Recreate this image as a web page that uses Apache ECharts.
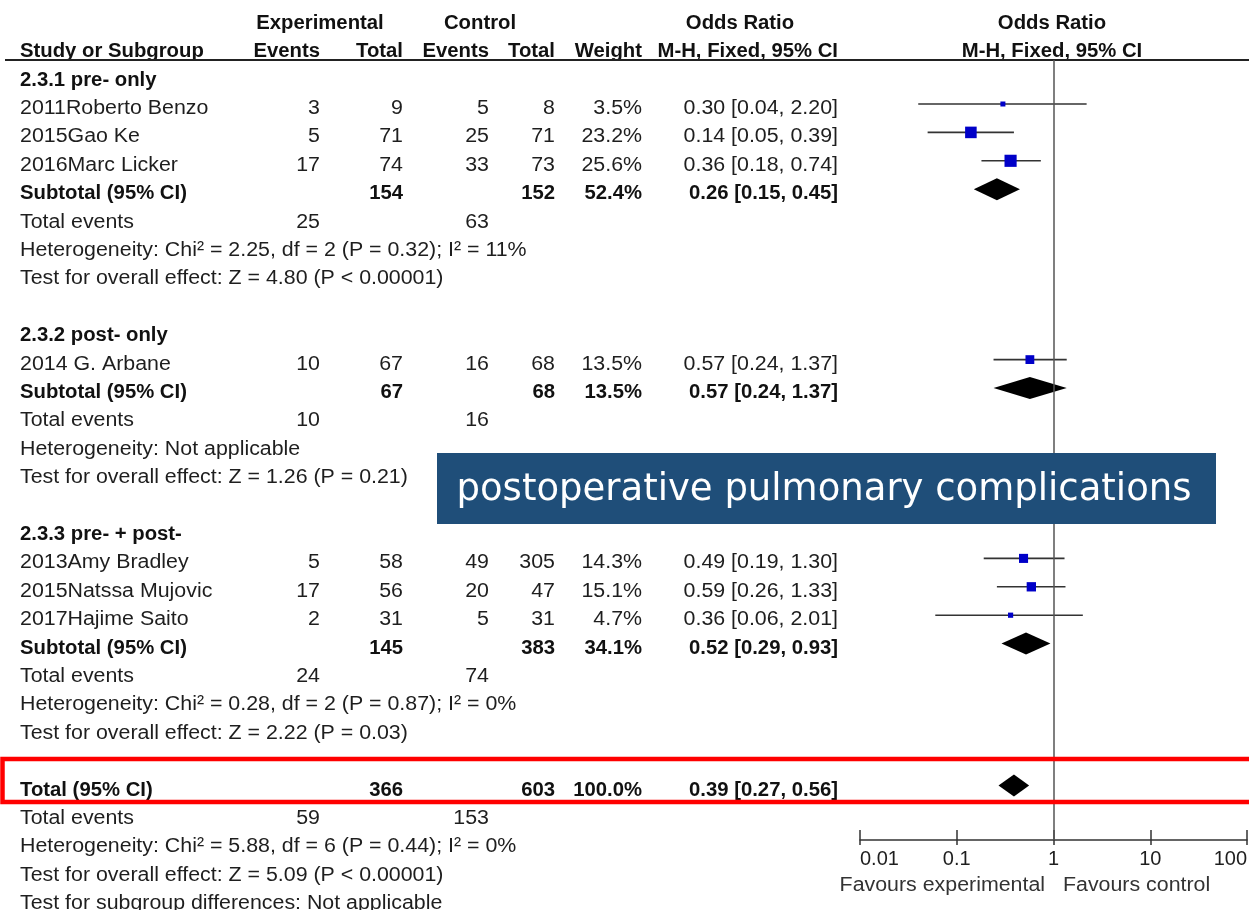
<!DOCTYPE html>
<html><head><meta charset="utf-8">
<script src="https://cdn.jsdelivr.net/npm/echarts@6/dist/echarts.min.js"></script>
<style>html,body{margin:0;padding:0;background:#fff}#c{width:1249px;height:910px}</style>
</head><body><div id="c"></div>
<script>
// ---------- data ----------
const groupNames = ['2.3.1 pre- only', '2.3.2 post- only', '2.3.3 pre- + post-'];
const studyNames = ['2011Roberto Benzo', '2015Gao Ke', '2016Marc Licker', '2014 G. Arbane', '2013Amy Bradley', '2015Natssa Mujovic', '2017Hajime Saito'];
const studyGroup = [0, 0, 0, 1, 2, 2, 2];
const expEvents = [3, 5, 17, 10, 5, 17, 2];
const expTotal = [9, 71, 74, 67, 58, 56, 31];
const ctlEvents = [5, 25, 33, 16, 49, 20, 5];
const ctlTotal = [8, 71, 73, 68, 305, 47, 31];
const weights = [3.5, 23.2, 25.6, 13.5, 14.3, 15.1, 4.7];
const orVal = [0.30, 0.14, 0.36, 0.57, 0.49, 0.59, 0.36];
const ciLow = [0.04, 0.05, 0.18, 0.24, 0.19, 0.26, 0.06];
const ciHigh = [2.20, 0.39, 0.74, 1.37, 1.30, 1.33, 2.01];

const subExpTotal = [154, 67, 145];
const subCtlTotal = [152, 68, 383];
const subWeight = [52.4, 13.5, 34.1];
const subOR = [0.26, 0.57, 0.52];
const subLow = [0.15, 0.24, 0.29];
const subHigh = [0.45, 1.37, 0.93];
const subExpEvents = [25, 10, 24];
const subCtlEvents = [63, 16, 74];
const subHet = ['Chi\u00b2 = 2.25, df = 2 (P = 0.32); I\u00b2 = 11%', 'Not applicable', 'Chi\u00b2 = 0.28, df = 2 (P = 0.87); I\u00b2 = 0%'];
const subZ = ['Z = 4.80 (P < 0.00001)', 'Z = 1.26 (P = 0.21)', 'Z = 2.22 (P = 0.03)'];

const totExpTotal = 366, totCtlTotal = 603, totWeight = 100.0;
const totOR = 0.39, totLow = 0.27, totHigh = 0.56;
const totExpEvents = 59, totCtlEvents = 153;
const totHet = 'Chi\u00b2 = 5.88, df = 6 (P = 0.44); I\u00b2 = 0%';
const totZ = 'Z = 5.09 (P < 0.00001)';
const subgroupDiff = 'Not applicable';

const tickLabels = ['0.01', '0.1', '1', '10', '100'];
const favourLabels = ['Favours experimental', 'Favours control'];
const bannerText = 'postoperative pulmonary complications';

// ---------- layout ----------
const ROW0 = 23.3, ROWH = 28.4;        // text rows
const MARK_SHIFT = 4.5;                // markers sit a little above text centre
const COL = { name: 20, expEv: 320, expTot: 403, ctlEv: 489, ctlTot: 555, weight: 642, or: 838 };
const FS = 20, SX_REG = 1.068, SX_BOLD = 1.015;
const fmt2 = v => v.toFixed(2);
const ciText = (o, l, h) => fmt2(o) + ' [' + fmt2(l) + ', ' + fmt2(h) + ']';

const cells = [];
function add(row, x, text, bold, align) {
  cells.push({ row, x, text: String(text), bold: !!bold, align: align || 'right' });
}
// header
add(0, 320, 'Experimental', true, 'center');
add(0, 480, 'Control', true, 'center');
add(0, 740, 'Odds Ratio', true, 'center');
add(0, 1052, 'Odds Ratio', true, 'center');
add(1, COL.name, 'Study or Subgroup', true, 'left');
add(1, COL.expEv, 'Events', true);
add(1, COL.expTot, 'Total', true);
add(1, COL.ctlEv, 'Events', true);
add(1, COL.ctlTot, 'Total', true);
add(1, COL.weight, 'Weight', true);
add(1, COL.or, 'M-H, Fixed, 95% CI', true);
add(1, 1052, 'M-H, Fixed, 95% CI', true, 'center');

const studyRow = [], subRow = [];
let r = 2;
for (let g = 0; g < groupNames.length; g++) {
  add(r, COL.name, groupNames[g], true, 'left'); r++;
  for (let i = 0; i < studyNames.length; i++) {
    if (studyGroup[i] !== g) continue;
    add(r, COL.name, studyNames[i], false, 'left');
    add(r, COL.expEv, expEvents[i]);
    add(r, COL.expTot, expTotal[i]);
    add(r, COL.ctlEv, ctlEvents[i]);
    add(r, COL.ctlTot, ctlTotal[i]);
    add(r, COL.weight, weights[i].toFixed(1) + '%');
    add(r, COL.or, ciText(orVal[i], ciLow[i], ciHigh[i]));
    studyRow[i] = r; r++;
  }
  add(r, COL.name, 'Subtotal (95% CI)', true, 'left');
  add(r, COL.expTot, subExpTotal[g], true);
  add(r, COL.ctlTot, subCtlTotal[g], true);
  add(r, COL.weight, subWeight[g].toFixed(1) + '%', true);
  add(r, COL.or, ciText(subOR[g], subLow[g], subHigh[g]), true);
  subRow[g] = r; r++;
  add(r, COL.name, 'Total events', false, 'left');
  add(r, COL.expEv, subExpEvents[g]);
  add(r, COL.ctlEv, subCtlEvents[g]); r++;
  add(r, COL.name, 'Heterogeneity: ' + subHet[g], false, 'left'); r++;
  add(r, COL.name, 'Test for overall effect: ' + subZ[g], false, 'left'); r++;
  r++; // blank
}
add(r, COL.name, 'Total (95% CI)', true, 'left');
add(r, COL.expTot, totExpTotal, true);
add(r, COL.ctlTot, totCtlTotal, true);
add(r, COL.weight, totWeight.toFixed(1) + '%', true);
add(r, COL.or, ciText(totOR, totLow, totHigh), true);
const totRow = r; r++;
add(r, COL.name, 'Total events', false, 'left');
add(r, COL.expEv, totExpEvents);
add(r, COL.ctlEv, totCtlEvents); r++;
add(r, COL.name, 'Heterogeneity: ' + totHet, false, 'left'); r++;
add(r, COL.name, 'Test for overall effect: ' + totZ, false, 'left'); r++;
add(r, COL.name, 'Test for subgroup differences: ' + subgroupDiff, false, 'left'); r++;

// forest data
const ciData = studyNames.map((_, i) => [ciLow[i], ciHigh[i], studyRow[i]]);
const ptData = studyNames.map((_, i) => [orVal[i], studyRow[i], weights[i]]);
const diaData = groupNames.map((_, g) => [subLow[g], subOR[g], subHigh[g], subRow[g]]);
diaData.push([totLow, totOR, totHigh, totRow]);

const FOREST_TOP = 60, FOREST_BOTTOM = 840;
const chart = echarts.init(document.getElementById('c'), null, { renderer: 'canvas' });
const TXT = '#1e1e1e';
const FONT = '"Liberation Sans", Arial, sans-serif';

chart.setOption({
  animation: false,
  grid: [
    { left: 0, top: 0, width: 1249, height: 910, containLabel: false, outerBoundsMode: 'none' },
    { left: 860, top: FOREST_TOP, width: 387, height: FOREST_BOTTOM - FOREST_TOP, containLabel: false, outerBoundsMode: 'none' }
  ],
  xAxis: [
    { gridIndex: 0, type: 'value', min: 0, max: 1249, show: false },
    { gridIndex: 1, type: 'log', logBase: 10, min: 0.01, max: 100, position: 'bottom',
      axisLine: { show: true, lineStyle: { color: '#333', width: 1.5 } },
      axisTick: { show: true, inside: true, length: 10, lineStyle: { color: '#333', width: 1.5 } },
      splitLine: { show: false },
      axisLabel: { margin: 9, color: TXT, fontSize: 20, fontFamily: FONT, hideOverlap: false,
        alignMinLabel: 'left', alignMaxLabel: 'right',
        formatter: v => tickLabels[Math.round(Math.log10(v)) + 2] } },
    { gridIndex: 1, type: 'log', logBase: 10, min: 0.01, max: 100, position: 'bottom',
      axisLine: { show: false },
      axisTick: { show: true, inside: false, length: 5, lineStyle: { color: '#333', width: 1.5 } },
      splitLine: { show: false }, axisLabel: { show: false } }
  ],
  yAxis: [
    { gridIndex: 0, type: 'value', inverse: true, min: -ROW0 / ROWH, max: (910 - ROW0) / ROWH, show: false },
    { gridIndex: 1, type: 'value', inverse: true,
      min: (FOREST_TOP - ROW0 + MARK_SHIFT) / ROWH, max: (FOREST_BOTTOM - ROW0 + MARK_SHIFT) / ROWH, show: false }
  ],
  graphic: [
    { type: 'line', shape: { x1: 5, y1: 60, x2: 1249, y2: 60 }, style: { stroke: '#222', lineWidth: 2 }, z: 5 },
    { type: 'rect', shape: { x: 437, y: 453, width: 779, height: 71 }, style: { fill: '#1f4e79' }, z: 20 },
    { type: 'text', x: 824, y: 490, z: 21,
      style: { text: bannerText, fill: '#fff', font: '37px "DejaVu Sans", Verdana, sans-serif', align: 'center', verticalAlign: 'middle' } },
    { type: 'rect', shape: { x: 2.5, y: 759, width: 1260, height: 43 }, style: { fill: 'none', stroke: '#ff0000', lineWidth: 4.5 }, z: 22 },
    { type: 'text', x: 1045, y: 885, z: 5, scaleX: SX_REG,
      style: { text: favourLabels[0], fill: '#333', font: FS + 'px ' + FONT, align: 'right', verticalAlign: 'middle' } },
    { type: 'text', x: 1063, y: 885, z: 5, scaleX: SX_REG,
      style: { text: favourLabels[1], fill: '#333', font: FS + 'px ' + FONT, align: 'left', verticalAlign: 'middle' } }
  ],
  series: [
    { type: 'custom', xAxisIndex: 0, yAxisIndex: 0, clip: false, silent: true,
      data: cells.map((c, i) => [c.x, c.row, i]),
      encode: { x: 0, y: 1 },
      renderItem: (params, api) => {
        const c = cells[params.dataIndex];
        const p = api.coord([c.x, c.row]);
        return { type: 'text', x: p[0], y: p[1], scaleX: c.bold ? SX_BOLD : SX_REG,
          style: { text: c.text, fill: c.bold ? '#111' : TXT,
            font: (c.bold ? 'bold ' : '') + FS + 'px ' + FONT,
            align: c.align, verticalAlign: 'middle' } };
      } },
    { type: 'line', xAxisIndex: 1, yAxisIndex: 1, data: [], silent: true,
      markLine: { symbol: 'none', silent: true, label: { show: false },
        lineStyle: { color: '#555', width: 1.5, type: 'solid' }, data: [{ xAxis: 1 }] } },
    { type: 'custom', xAxisIndex: 1, yAxisIndex: 1, silent: true,
      data: ciData, encode: { x: [0, 1], y: 2 },
      renderItem: (params, api) => {
        const a = api.coord([api.value(0), api.value(2)]);
        const b = api.coord([api.value(1), api.value(2)]);
        return { type: 'line', shape: { x1: a[0], y1: a[1], x2: b[0], y2: b[1] },
          style: { stroke: '#333', lineWidth: 1.6 } };
      } },
    { type: 'scatter', xAxisIndex: 1, yAxisIndex: 1, silent: true, symbol: 'rect',
      data: ptData, symbolSize: v => Math.max(5, 2.4 * Math.sqrt(v[2])),
      itemStyle: { color: '#0000c8', opacity: 1 }, z: 4 },
    { type: 'custom', xAxisIndex: 1, yAxisIndex: 1, silent: true,
      data: diaData, encode: { x: [0, 1, 2], y: 3 },
      renderItem: (params, api) => {
        const l = api.coord([api.value(0), api.value(3)]);
        const m = api.coord([api.value(1), api.value(3)]);
        const h = api.coord([api.value(2), api.value(3)]);
        return { type: 'polygon', shape: { points: [[l[0], l[1]], [m[0], m[1] - 11], [h[0], h[1]], [m[0], m[1] + 11]] },
          style: { fill: '#000' } };
      }, z: 4 }
  ]
});
</script>
</body></html>
